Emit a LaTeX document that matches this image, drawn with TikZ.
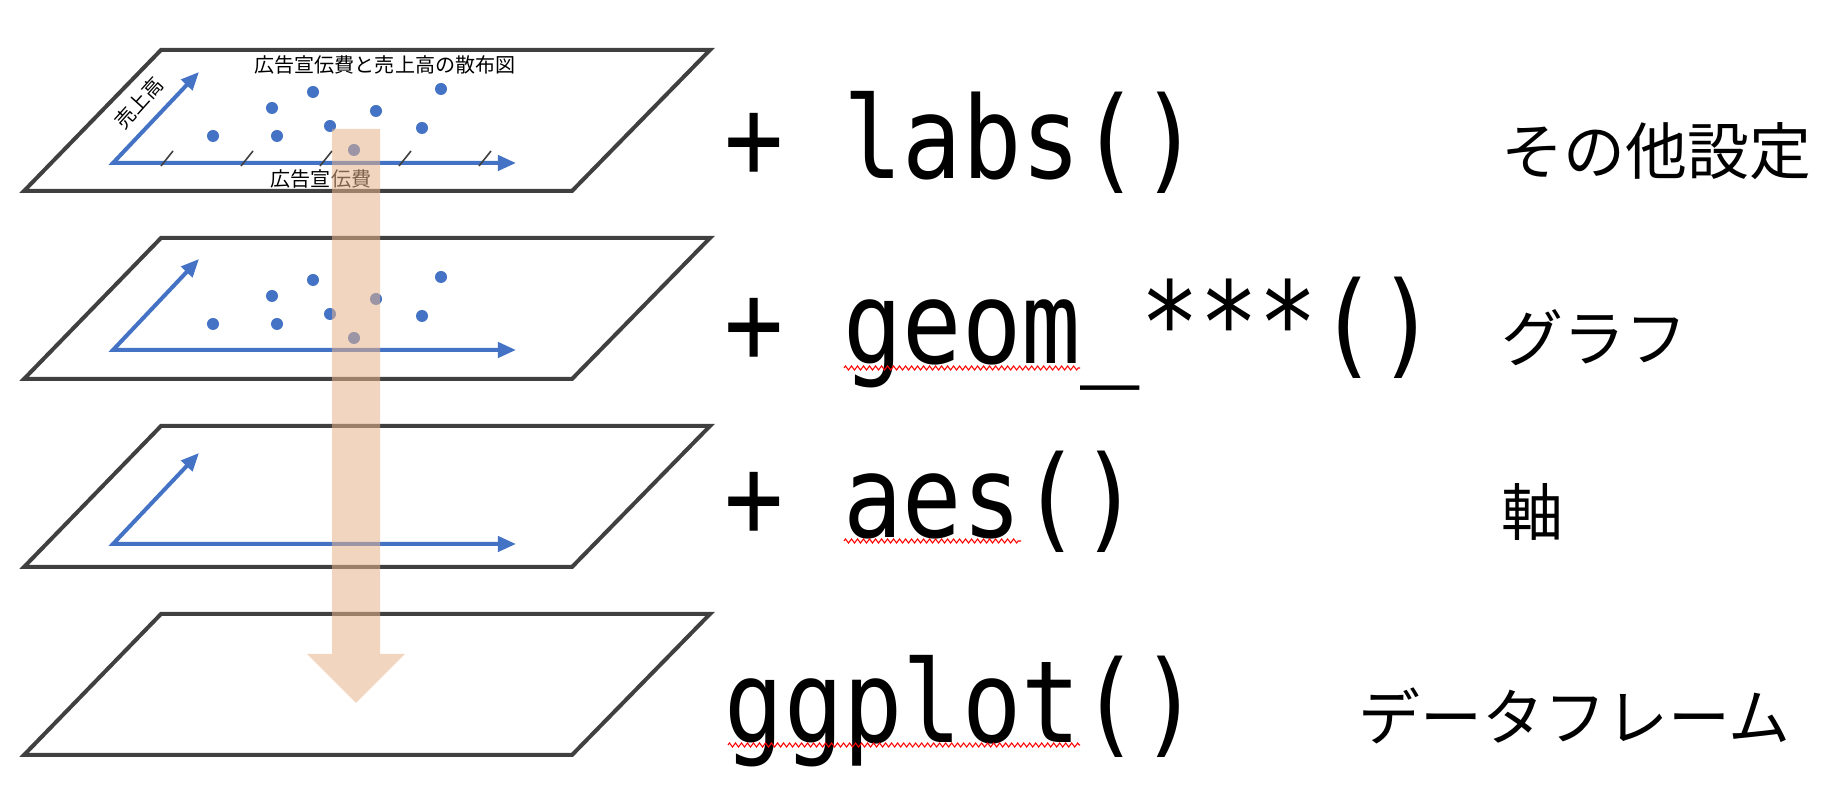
\documentclass[tikz,border=0pt]{standalone}
\usepackage{fontspec}
\newfontfamily\jpfont{Noto Sans CJK JP}
\newfontfamily\codefont[FakeStretch=0.865]{DejaVu Sans Mono}
\usetikzlibrary{arrows.meta,decorations.pathmorphing}

\definecolor{layergray}{HTML}{404040}
\definecolor{axisblue}{HTML}{4472C4}
\definecolor{flowpeach}{RGB}{230,179,140}

\tikzset{
  layer/.style={draw=layergray, line width=0.04cm, fill=white},
  axis/.style={draw=axisblue, line width=0.04cm,
    {Triangle[length=1.8mm,width=1.5mm]}-{Triangle[length=1.8mm,width=1.5mm]}},
  pt/.style={fill=axisblue, circle, inner sep=0pt, minimum size=0.12cm},
  tick/.style={draw=layergray, line width=0.45pt},
  code/.style={anchor=base west, inner sep=0pt, font=\codefont\fontsize{32.4}{36}\selectfont},
  role/.style={anchor=base west, inner sep=0pt, font=\jpfont\fontsize{17.6}{20}\selectfont},
  small/.style={inner sep=0pt, font=\jpfont\fontsize{5.7}{7}\selectfont},
  typo/.style={draw=red, line width=0.3pt, decorate,
    decoration={zigzag, segment length=0.06cm, amplitude=0.02cm}},
}

\begin{document}
\begin{tikzpicture}[x=0.01cm, y=-0.01cm]
  \useasboundingbox (0,0) rectangle (1842,798);

  % the four layers
  \foreach \t in {50, 238, 426, 614} {
    \draw[layer] (161,\t) -- (710,\t) -- (572,\t+141) -- (24,\t+141) -- cycle;
  }

  % axes
  \foreach \o/\n in {163/lab, 350/geo, 544/aes} {
    \coordinate (o\n) at (113,\o);
    \coordinate (x\n) at (516,\o);
    \coordinate (y\n) at (199,\o-91);
    \draw[axis] (y\n) -- (o\n) -- (x\n);
  }

  % ticks on the top layer
  \foreach \tx in {162, 242, 321, 400, 480} {
    \draw[tick] (\tx-1,166) -- (\tx+11,151);
  }

  % points
  \foreach \t/\n in {50/lab, 238/geo} {
    \foreach \px/\py [count=\i] in {213/86, 277/86, 272/58, 313/42, 330/76,
                                    354/100, 376/61, 422/78, 441/39} {
      \node[pt] (\n\i) at (\px,\t+\py) {};
    }
  }

  % labels of the plot
  \node[small] (title) at (385,65) {広告宣伝費と売上高の散布図};
  \node[small] (xlab) at (321,179) {広告宣伝費};
  \node[small, rotate=48] (ylab) at (139,103) {売上高};

  % the big arrow
  \fill[flowpeach, opacity=0.55] (332,129) -- (380,129) -- (380,654) -- (405,654)
    -- (356,703) -- (307,654) -- (332,654) -- cycle;

  % code
  \node[code] (labs) at (724,179) {+ labs()};
  \node[code] (geom) at (724,364) {+ geom\_***()};
  \node[code] (aes) at (724,538) {+ aes()};
  \node[code] (ggplot) at (724,743) {ggplot()};

  \draw[typo] (geom.base west) ++(120,4) -- ++(236,0);
  \draw[typo] (aes.base west) ++(120,3) -- ++(177,0);
  \draw[typo] (ggplot.base west) ++(4,2) -- ++(352,0);

  % what each line does
  \node[role] (labsrole) at (1501,175) {その他設定};
  \node[role] (geomrole) at (1501,362) {グラフ};
  \node[role] (aesrole) at (1501,536) {軸};
  \node[role] (datarole) at (1358,741) {データフレーム};
\end{tikzpicture}
\end{document}
